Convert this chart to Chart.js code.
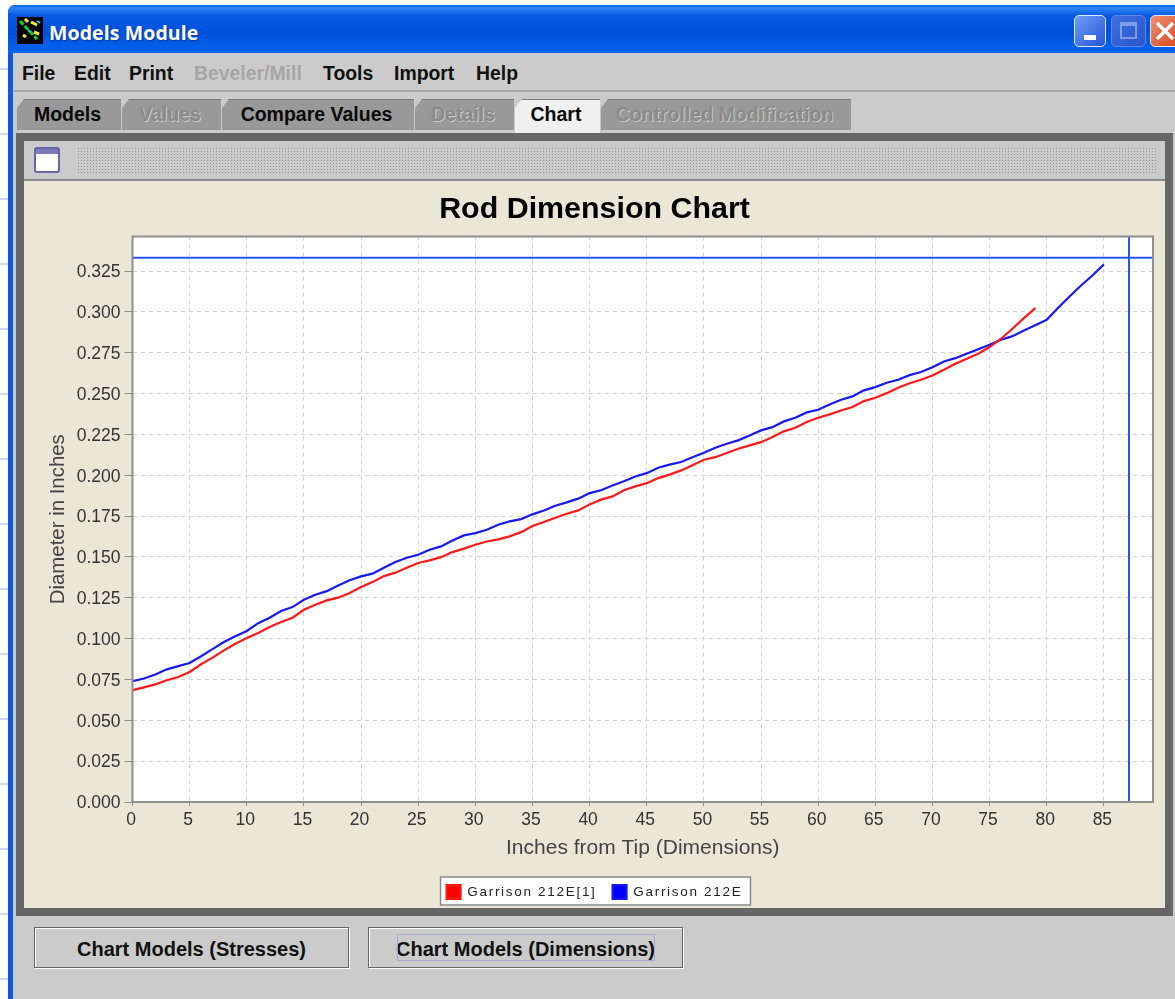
<!DOCTYPE html>
<html><head><meta charset="utf-8">
<script src="https://cdn.jsdelivr.net/npm/chart.js@4"></script>
<style>
html,body{margin:0;padding:0;background:#fff}
#stage{position:relative;width:1175px;height:999px;overflow:hidden;background:#fff;filter:blur(.55px);font-family:"Liberation Sans",Arial,sans-serif}
#stage div,#stage span{position:absolute;white-space:nowrap}
#ticks{left:0;top:5px;width:8px;height:994px;background:repeating-linear-gradient(to bottom,transparent 0,transparent 63px,#cdd8f2 63px,#cdd8f2 65px)}
#win{left:8px;top:5px;width:1167px;height:994px;background:#0a5be0;border-radius:7px 0 0 0}
#client{left:13px;top:53px;width:1162px;height:946px;background:#cbcbcb}
#bar{left:8px;top:5px;width:1167px;height:48px;border-radius:7px 0 0 0;background:linear-gradient(to bottom,#0a5fe6 0,#2f86f6 6%,#0658e2 22%,#0052dc 60%,#0460ea 88%,#0a63e8 100%)}
.wbtn{top:15px;height:32px;border-radius:5px;box-sizing:border-box;border:1px solid #dfe8fb}
#wt{left:49px;top:19px;color:#fff;font:bold 19.5px "Open Sans",sans-serif;letter-spacing:.1px;text-shadow:1px 1px 1px #0a3a9a}
.menu{top:62px;font:bold 19.4px "Liberation Sans";color:#111}
.tab{top:99px;height:31px;background:#999;clip-path:polygon(7px 0,100% 0,100% 100%,0 100%,0 9px);font:bold 19.5px "Liberation Sans";color:#0a0a0a;text-align:center;line-height:28px;border-top:1px solid #777;box-sizing:border-box;padding-right:3px}
.tab.off{color:#8a8a8a;text-shadow:1px 1px 0 #c8c8c8}
#panel{left:16px;top:133px;width:1157px;height:783px;background:#666}
#strip{left:24px;top:141px;width:1141px;height:38px;background:#cbcbcb;border-bottom:2px solid #8a8a8a;box-sizing:content-box}
#dots{left:77px;top:147px;width:1081px;height:27px;background-color:#cbcbcb;background-image:radial-gradient(#959595 35%,transparent 40%);background-size:3px 3px}
#ficon{left:34px;top:147px;width:26px;height:26px;box-sizing:border-box;border:2px solid #6666a8;border-radius:3px;background:linear-gradient(to bottom,#7a7ab8 0,#7a7ab8 22%,#fff 22%,#fff 100%)}
#beige{left:24px;top:181px;width:1141px;height:727px;background:#eae7d7}
.btn{top:927px;width:315px;height:41px;box-sizing:border-box;border:1px solid #666;box-shadow:1px 1px 0 #fff,inset 1px 1px 0 #fff;background:#cbcbcb;font:bold 20px "Liberation Sans";color:#111;text-align:center;line-height:42px}
#focus{left:397px;top:934px;width:258px;height:27px;box-sizing:border-box;border:1px solid #a9a9d8}
#c{position:absolute;left:0;top:0}
</style></head><body>
<div id="stage">
<div id="ticks"></div>
<div id="win"></div><div id="client"></div><div id="bar"></div>
<svg style="position:absolute;left:17px;top:17px" width="26" height="27"><rect width="26" height="27" fill="#000"/><path d="M3 4L20 22" stroke="#12d02a" stroke-width="3" stroke-dasharray="5 2"/><path d="M14 5l6 3M8 2l3 3M17 15l5 2M6 18l3 2" stroke="#f6e83a" stroke-width="3"/><path d="M20 4l3 2M11 13l2 2" stroke="#31c6e8" stroke-width="2"/></svg>
<span id="wt">Models Module</span>
<div class="wbtn" style="left:1074px;width:32px;background:linear-gradient(135deg,#6f9df5,#2456d8)"><div style="left:9px;bottom:6px;width:12px;height:5px;background:#fff"></div></div>
<div class="wbtn" style="left:1111px;width:35px;border-color:#5f86e6;background:linear-gradient(135deg,#3f6fe0,#2a55cc)"><div style="left:8px;top:6px;width:17px;height:17px;box-sizing:border-box;border:2px solid #7d9de8;border-top-width:4px"></div></div>
<div class="wbtn" style="left:1150px;width:32px;background:linear-gradient(135deg,#f09070,#d8441c)"><svg style="position:absolute;left:4px;top:5px" width="24" height="20"><path d="M2 2L18 18M18 2L2 18" stroke="#fff" stroke-width="3.5"/></svg></div>
<span class="menu" style="left:22px">File</span><span class="menu" style="left:74px">Edit</span><span class="menu" style="left:129px">Print</span><span class="menu" style="left:194px;color:#a6a6a6">Beveler/Mill</span><span class="menu" style="left:323px">Tools</span><span class="menu" style="left:394px">Import</span><span class="menu" style="left:476px">Help</span>
<div style="left:13px;top:90px;width:1162px;height:2px;background:#a8a8a8"></div>
<div class="tab" style="left:17px;width:104px">Models</div>
<div class="tab off" style="left:122px;width:99px">Values</div>
<div class="tab" style="left:222px;width:192px">Compare Values</div>
<div class="tab off" style="left:415px;width:99px">Details</div>
<div class="tab" style="left:515px;width:85px;background:#f0f0f0;height:34px">Chart</div>
<div class="tab off" style="left:601px;width:250px">Controlled Modification</div>
<div id="panel"></div><div id="strip"></div><div id="dots"></div><div id="ficon"></div><div id="beige"></div>
<div class="btn" style="left:34px">Chart Models (Stresses)</div>
<div class="btn" style="left:368px">Chart Models (Dimensions)</div>
<div id="focus"></div>
<canvas id="c" width="1175" height="999"></canvas>
</div>
<script>
const titleText = "Rod Dimension Chart";
const xTitle = "Inches from Tip (Dimensions)";
const yTitle = "Diameter in Inches";
const redName = "Garrison 212E[1]";
const blueName = "Garrison 212E";
const redInches = [0,1,2,3,4,5,6,7,8,9,10,11,12,13,14,15,16,17,18,19,20,21,22,23,24,25,26,27,28,29,30,31,32,33,34,35,36,37,38,39,40,41,42,43,44,45,46,47,48,49,50,51,52,53,54,55,56,57,58,59,60,61,62,63,64,65,66,67,68,69,70,71,72,73,74,75,76,77,78,79];
const redValues = [.0685,.0702,.0720,.0745,.0765,.0796,.0843,.0884,.0928,.0969,.1004,.1034,.1071,.1102,.1128,.1177,.1208,.1234,.1251,.1279,.1316,.1346,.1383,.1404,.1434,.1463,.1479,.1499,.1530,.1551,.1575,.1595,.1608,.1626,.1652,.1690,.1714,.1740,.1765,.1785,.1822,.1851,.1871,.1908,.1932,.1952,.1983,.2004,.2030,.2061,.2095,.2111,.2136,.2163,.2183,.2203,.2234,.2269,.2291,.2326,.2352,.2373,.2397,.2418,.2454,.2475,.2503,.2536,.2564,.2585,.2611,.2646,.2683,.2714,.2744,.2785,.2836,.2897,.2962,.3023];
const blueInches = [0,1,2,3,4,5,6,7,8,9,10,11,12,13,14,15,16,17,18,19,20,21,22,23,24,25,26,27,28,29,30,31,32,33,34,35,36,37,38,39,40,41,42,43,44,45,46,47,48,49,50,51,52,53,54,55,56,57,58,59,60,61,62,63,64,65,66,67,68,69,70,71,72,73,74,75,76,77,78,79,80,81,82,83,84,85];
const blueValues = [.0739,.0756,.0780,.0812,.0832,.0851,.0892,.0936,.0979,.1014,.1047,.1095,.1128,.1169,.1193,.1238,.1269,.1291,.1326,.1357,.1381,.1398,.1434,.1469,.1495,.1514,.1544,.1565,.1601,.1632,.1646,.1667,.1697,.1718,.1732,.1761,.1785,.1814,.1834,.1857,.1891,.1908,.1938,.1963,.1993,.2013,.2046,.2065,.2081,.2111,.2138,.2169,.2193,.2214,.2244,.2275,.2295,.2330,.2352,.2385,.2401,.2433,.2463,.2483,.2520,.2540,.2567,.2585,.2613,.2632,.2662,.2697,.2717,.2744,.2772,.2799,.2830,.2852,.2887,.2919,.2952,.3026,.3095,.3162,.3223,.3291];
const crossX = 87.2;
const crossY = .3332;
const xMin = 0, xMax = 89.3, xStep = 5;
const yMin = 0, yMax = .3462, yStep = .025;

const toPts = (xs, ys) => xs.map((x, i) => ({x, y: ys[i]}));
const plotFrame = {
  id: 'plotFrame',
  beforeDraw(ch) {
    const a = ch.chartArea, c = ch.ctx;
    c.save(); c.fillStyle = '#fff'; c.fillRect(a.left, a.top, a.width, a.height);
    const h = ch.legend.legendHitBoxes;
    if (h && h.length) {
      const l = h[0].left - 6, r = h[h.length-1].left + h[h.length-1].width + 8;
      c.fillStyle = '#fff'; c.strokeStyle = '#8a8a8a'; c.lineWidth = 1.5;
      c.fillRect(l, 877, r - l, 28); c.strokeRect(l, 877, r - l, 28);
    }
    c.restore();
  },
  afterDatasetsDraw(ch) {
    const a = ch.chartArea, c = ch.ctx;
    c.save(); c.strokeStyle = '#8e8e8e'; c.lineWidth = 2;
    c.strokeRect(a.left, a.top, a.width, a.height); c.restore();
  },
  afterInit(ch) {
    const lg = ch.legend;
    ['fit', 'draw'].forEach(m => {
      const f = lg[m];
      lg[m] = function () {
        ch.ctx.letterSpacing = '1.7px';
        const r = f.apply(this, arguments);
        ch.ctx.letterSpacing = '0px';
        return r;
      };
    });
  }
};
new Chart(document.getElementById('c'), {
  type: 'line',
  data: { datasets: [
    {label: redName, data: toPts(redInches, redValues), borderColor: '#ff1818', backgroundColor: '#ff0000', borderWidth: 2.2, pointRadius: 0, tension: 0},
    {label: blueName, data: toPts(blueInches, blueValues), borderColor: '#1818f0', backgroundColor: '#0000ff', borderWidth: 2.2, pointRadius: 0, tension: 0},
    {label: 'cx', data: toPts([crossX, crossX], [yMin, yMax]), borderColor: '#2555f5', borderWidth: 2, pointRadius: 0},
    {label: 'cy', data: toPts([xMin, xMax], [crossY, crossY]), borderColor: '#2555f5', borderWidth: 2, pointRadius: 0}
  ]},
  options: {
    responsive: false, animation: false, events: [],
    layout: {padding: {left: 36, right: 22, top: 191, bottom: 90}},
    scales: {
      x: {type: 'linear', min: xMin, max: xMax,
        afterFit(s){ s.height = 67; },
        border: {color: '#8e8e8e', width: 0, dash: [4,4]},
        grid: {color: '#d2d2d2', tickColor: '#8e8e8e', tickLength: 4, lineWidth: 1},
        ticks: {stepSize: xStep, includeBounds: false, autoSkip: false, maxRotation: 0, color: '#333', padding: 4, labelOffset: -1.5, font: {family: '"Liberation Sans"', size: 17.5}},
        title: {display: true, text: xTitle, color: '#444', padding: {top: 6, bottom: 8}, font: {family: '"Liberation Sans"', size: 21}}},
      y: {min: yMin, max: yMax,
        afterFit(s){ s.width = 96.5; },
        border: {color: '#8e8e8e', width: 0, dash: [4,4]},
        grid: {color: '#d2d2d2', tickColor: '#8e8e8e', tickLength: 8, lineWidth: 1},
        ticks: {stepSize: yStep, includeBounds: false, autoSkip: false, color: '#333', padding: 4, labelOffset: 1.5, callback: v => v.toFixed(3), font: {family: '"Liberation Sans"', size: 17.5}},
        title: {display: true, text: yTitle, color: '#444', padding: {top: 10, bottom: 8}, font: {family: '"Liberation Sans"', size: 20.4}}}
    },
    plugins: {
      title: {display: true, text: titleText, color: '#000', padding: {top: 0, bottom: 9}, font: {family: '"Liberation Sans"', size: 30.4, weight: 'bold'}},
      legend: {position: 'bottom', labels: {color: '#222', boxWidth: 14, boxHeight: 14, padding: 16, font: {family: '"Liberation Sans"', size: 13.5},
        filter: it => it.text === redName || it.text === blueName}},
      tooltip: {enabled: false}
    }
  },
  plugins: [plotFrame]
});
</script>
</body></html>
